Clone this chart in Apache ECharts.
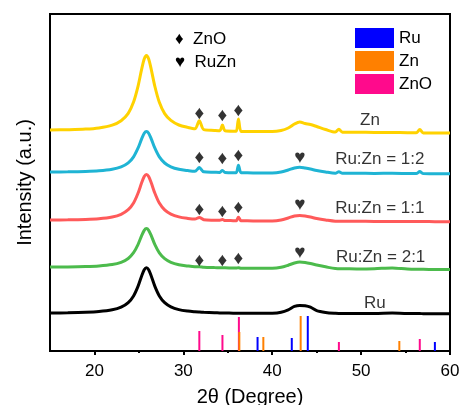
<!DOCTYPE html>
<html>
<head>
<meta charset="utf-8">
<script src="https://cdn.jsdelivr.net/npm/echarts@6/dist/echarts.min.js"></script>
<style>
html, body { margin: 0; padding: 0; background: #fff; }
#main { width: 462px; height: 405px; }
</style>
</head>
<body>
<div id="main"></div>
<script>
// 2theta sampling points shared by all patterns
var angles = [15, 17, 19, 20.5, 22, 23, 23.8, 24.4, 24.9, 25.3,
  25.6, 25.85, 26.1, 26.4, 26.8, 27.3, 27.9, 28.6, 29.5, 30.5,
  31.3, 31.8, 32.3, 33.5, 34.1, 34.4, 34.7, 35.6, 35.95, 36.2,
  36.5, 37.2, 38.5, 40, 41, 41.8, 42.5, 43.1, 43.7, 44.3,
  45, 46, 47.1, 47.5, 47.9, 49.5, 51.5, 53.5, 55.2, 56.2,
  56.6, 57, 58.3, 60];

// intensities above each pattern's own baseline (a.u.)
var znVals = [0, 0.3, 0.9, 2.1, 4.9, 9.3, 16.7, 27.9, 43.6, 60.3,
  71, 74.5, 71, 60.2, 43.5, 27.7, 16.4, 9.6, 5, 2.6,
  1.3, 9.2, 0.35, -0.4, -0.7, 4.9, -0.8, -1.2, -1.2, 11.1,
  -1.4, -1.5, -1.6, -1.6, -0.5, 2, 6, 8, 6.5, 5.5,
  3.5, 0.5, -2.1, 0.8, -2.2, -2.3, -2.4, -2.5, -2.7, -2.8,
  0.5, -2.9, -2.95, -3];
var ru12Vals = [0, 0.15, 0.53, 1.16, 2.69, 5.05, 9.13, 15.2, 23.8, 32.9,
  38.8, 40.6, 38.8, 32.9, 23.8, 15.1, 9, 5.2, 2.7, 1.4,
  0.7, 4.4, 0.2, -0.2, -0.4, 1.6, -0.5, -0.7, -0.7, 6.7,
  -0.8, -0.85, -0.9, -0.9, 0, 2, 4, 4.8, 4, 3,
  1.5, 0, -1.2, 0.2, -1.3, -1.3, -1.4, -1.3, -1.5, -1.6,
  0.4, -1.6, -1.65, -1.7];
var ru11Vals = [0, 0.18, 0.61, 1.32, 3.04, 5.7, 10.3, 17, 26.7, 36.9,
  43.5, 45.6, 43.5, 36.9, 26.7, 16.9, 10.1, 5.9, 3.1, 1.6,
  0.9, 2.5, 0.3, -0.2, -0.35, 0.4, -0.46, -0.64, -0.7, 2.75,
  -0.8, -0.85, -0.9, -0.9, 0, 2, 4, 4.5, 4, 3,
  1.5, 0, -1.2, -1.2, -1.3, -1.3, -1.4, -1.4, -1.5, -1.6,
  -1.6, -1.6, -1.65, -1.7];
var ru21Vals = [0, 0.11, 0.43, 1, 2.4, 4.7, 8.5, 14.3, 22.4, 31.1,
  36.7, 38.5, 36.7, 31.1, 22.3, 14.1, 8.3, 4.7, 2.3, 1,
  0.35, 0.36, -0.17, -0.6, -0.74, -0.8, -0.85, -1, -1.1, -0.7,
  -1.2, -1.25, -1.35, -1.3, -0.3, 1.8, 4, 5, 4.5, 3.5,
  2, 0.2, -1.6, -1.7, -1.8, -1.9, -1.7, -0.9, -2.1, -2.3,
  -2.3, -2.35, -2.45, -2.5];
var ruVals = [0, 0.23, 0.69, 1.43, 3.16, 5.8, 10.4, 17.1, 26.65, 36.75,
  43.25, 45.3, 43.2, 36.7, 26.6, 17.05, 10.3, 6.15, 3.4, 1.9,
  1.2, 0.9, 0.65, 0.22, 0.07, 0.02, -0.03, -0.2, -0.25, -0.28,
  -0.34, -0.35, -0.36, -0.2, 0.8, 3.2, 6.6, 7.6, 7.2, 5.8,
  2.4, 0.6, -0.3, -0.4, -0.4, -0.5, -0.5, 0, -0.6, -0.6,
  -0.6, -0.65, -0.65, -0.7];

var curveNames = ['Zn', 'Ru:Zn = 1:2', 'Ru:Zn = 1:1', 'Ru:Zn = 2:1', 'Ru'];
var curveOffsets = [221, 179, 131, 84, 38];
var curveLabelX = [51.0, 52.1, 52.1, 52.2, 51.55];
var curveLabelY = [231, 192, 143, 94, 48];

// standard reference lines (PDF cards)
var ruPos = [38.35, 42.2, 44.0, 58.3];
var ruH = [14, 13, 35, 9];
var znPos = [36.3, 39.0, 43.2, 54.3];
var znH = [19, 14, 35, 10];
var znoPos = [31.8, 34.4, 36.25, 47.5, 56.6];
var znoH = [20, 16, 34, 9, 12];

// peak markers
var diamondX = [31.8, 34.4, 36.2, 31.8, 34.4, 36.2, 31.8, 34.4, 36.2, 31.8, 34.4, 36.2];
var diamondY = [237, 235, 240, 193, 192, 195, 141, 139, 143, 90, 90, 92];
var heartX = [43.1, 43.1, 43.1];
var heartY = [193, 146, 98];

var tickLabels = [20, 30, 40, 50, 60];
var minorTicks = [25, 35, 45, 55];

var curveColors = ['#ffd200', '#1fb4d4', '#ff5a5a', '#4cbb4c', '#000000'];
var font = 'Arial, "Liberation Sans", sans-serif';

var allCurves = [znVals, ru12Vals, ru11Vals, ru21Vals, ruVals];

function pairs(xs, ys, off) {
  return xs.map(function (x, i) { return [x, ys[i] + (off || 0)]; });
}

var series = [];
allCurves.forEach(function (vals, k) {
  series.push({
    name: 'pattern ' + curveNames[k],
    type: 'line',
    data: pairs(angles, vals, curveOffsets[k]),
    showSymbol: false,
    smooth: 0.3,
    color: curveColors[k],
    lineStyle: { color: curveColors[k], width: 3 },
    z: 3
  });
});

function sticks(name, pos, h, color, z) {
  return {
    name: name,
    type: 'bar',
    data: pairs(pos, h),
    barWidth: 2,
    barGap: '-100%',
    color: color,
    itemStyle: { color: color },
    z: z
  };
}
series.push(sticks('Ru', ruPos, ruH, '#0000ff', 4));
series.push(sticks('Zn', znPos, znH, '#ff8000', 4));
series.push(sticks('ZnO', znoPos, znoH, '#ff0a8c', 3));

function textMarks(xs, ys, texts, size) {
  return {
    type: 'scatter',
    data: xs.map(function (x, i) { return { value: [x, ys[i]], name: texts[i] }; }),
    symbolSize: 0,
    silent: true,
    label: {
      show: true,
      position: 'inside',
      formatter: '{b}',
      color: '#000',
      fontFamily: font,
      fontSize: size
    },
    z: 5
  };
}
series.push(textMarks(diamondX, diamondY, diamondX.map(function () { return '\u2666'; }), 19));
series.push(textMarks(heartX, heartY, heartX.map(function () { return '\u2665'; }), 19));
series.push(textMarks(curveLabelX, curveLabelY, curveNames, 17));

var myChart = echarts.init(document.getElementById('main'));
var option = {
  animation: false,
  backgroundColor: '#fff',
  grid: {
    left: 50, right: 12, top: 14, bottom: 54,
    outerBoundsMode: 'none',
    containLabel: false,
    show: true, borderColor: '#000', borderWidth: 2
  },
  legend: {
    data: ['Ru', 'Zn', 'ZnO'],
    orient: 'vertical',
    left: 350,
    top: 23,
    itemWidth: 39,
    itemHeight: 20,
    itemGap: 3,
    icon: 'rect',
    textStyle: { fontFamily: font, fontSize: 17, color: '#000' }
  },
  graphic: [
    { type: 'text', left: 175, top: 31, style: { text: '\u2666  ZnO', font: '17px ' + font, fill: '#000' } },
    { type: 'text', left: 175, top: 54, style: { text: '\u2665  RuZn', font: '17px ' + font, fill: '#000' } }
  ],
  xAxis: [{
    type: 'value',
    min: 15,
    max: 60,
    name: '2\u03b8 (Degree)',
    nameLocation: 'middle',
    nameGap: 36,
    nameTextStyle: { fontFamily: font, fontSize: 20, color: '#000' },
    axisLine: { lineStyle: { color: '#000', width: 2 } },
    axisTick: { customValues: tickLabels, length: 4, lineStyle: { color: '#000', width: 2 } },
    axisLabel: { customValues: tickLabels, margin: 12, fontFamily: font, fontSize: 17, color: '#000' },
    splitLine: { show: false }
  }, {
    type: 'value',
    min: 15,
    max: 60,
    position: 'bottom',
    axisLine: { show: false },
    axisTick: { customValues: minorTicks, length: 2, lineStyle: { color: '#000', width: 2 } },
    axisLabel: { show: false },
    splitLine: { show: false }
  }],
  yAxis: {
    type: 'value',
    min: 0,
    max: 337,
    name: 'Intensity (a.u.)',
    nameLocation: 'middle',
    nameGap: 15,
    nameTextStyle: { fontFamily: font, fontSize: 20, color: '#000' },
    axisLine: { show: true, lineStyle: { color: '#000', width: 2 } },
    axisTick: { show: false },
    axisLabel: { show: false },
    splitLine: { show: false }
  },
  series: series
};
myChart.setOption(option);
</script>
</body>
</html>
